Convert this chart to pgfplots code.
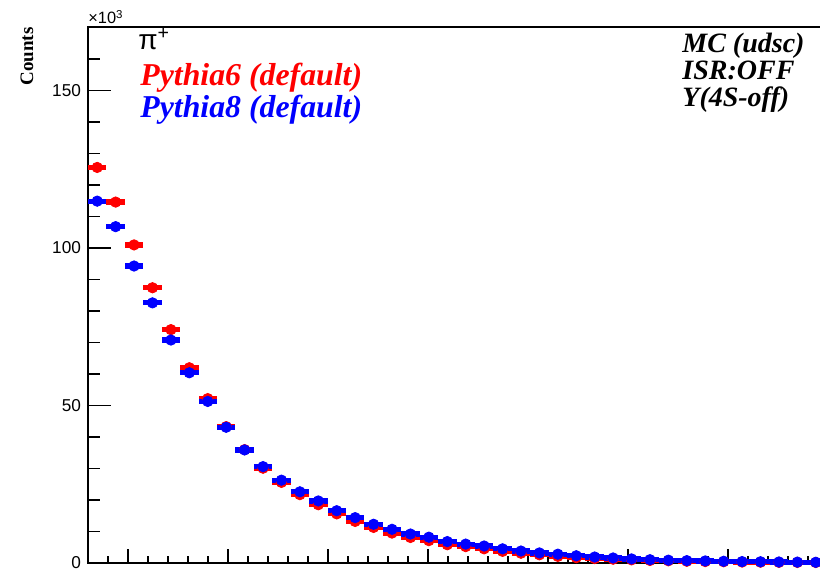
\documentclass[border=0pt]{standalone}
\usepackage{fontspec}
\setmainfont{Liberation Serif}
\newfontfamily\helv{Liberation Sans}
\usepackage{pgfplots}
\pgfplotsset{compat=1.18}

\begin{document}
\begin{tikzpicture}
\begin{axis}[
    at={(44pt,5.5pt)}, anchor=south west,
    scale only axis,
    width=368.5pt, height=267.85pt,
    xmin=0, xmax=40,
    ymin=0, ymax=170.1,
    axis line style={line width=0.8pt},
    tick align=inside,
    xtick pos=bottom, ytick pos=left,
    xtick={2.170,7.596,13.022,18.448,23.874,29.300,34.725},
    minor xtick={1.0852,2.1704,...,40},
    xticklabels={},
    ytick={0,50,100,150},
    minor ytick={0,10,...,170},
    major tick length=11.5pt, minor tick length=6pt,
    every major x tick/.append style={/pgfplots/major tick length=7pt},
    every minor x tick/.append style={/pgfplots/minor tick length=3.5pt},
    tick style={line width=0.8pt, black},
    scaled ticks=false,
    /pgf/number format/assume math mode=true,
    yticklabel style={font=\helv\fontsize{8.6}{10}\selectfont, xshift=0pt},
    clip=false,
]
% Pythia6 (default)
\addplot[only marks, mark=*, red, mark size=2.6pt,
    error bars/.cd, x dir=both, x fixed=0.5, error mark=none,
    error bar style={line width=2.6pt, red}]
coordinates {
(0.5,125.6) (1.5,114.6) (2.5,101.0) (3.5,87.4) (4.5,74.1)
(5.5,62.0) (6.5,52.2) (7.5,43.3) (8.5,36.0) (9.5,30.1)
(10.5,25.6) (11.5,21.7) (12.5,18.5) (13.5,15.6) (14.5,13.2)
(15.5,11.3) (16.5,9.5) (17.5,8.1) (18.5,7.1) (19.5,5.8)
(20.5,5.2) (21.5,4.5) (22.5,3.7) (23.5,3.1) (24.5,2.6)
(25.5,2.1) (26.5,1.7) (27.5,1.4) (28.5,1.2) (29.5,1.0)
(30.5,0.8) (31.5,0.7) (32.5,0.55) (33.5,0.45) (34.5,0.4)
(35.5,0.3) (36.5,0.25) (37.5,0.2) (38.5,0.18) (39.5,0.15)
};
% Pythia8 (default)
\addplot[only marks, mark=*, blue, mark size=2.6pt,
    error bars/.cd, x dir=both, x fixed=0.5, error mark=none,
    error bar style={line width=2.6pt, blue}]
coordinates {
(0.5,114.9) (1.5,106.8) (2.5,94.3) (3.5,82.6) (4.5,70.8)
(5.5,60.4) (6.5,51.3) (7.5,43.1) (8.5,35.9) (9.5,30.6)
(10.5,26.3) (11.5,22.6) (12.5,19.7) (13.5,16.6) (14.5,14.4)
(15.5,12.3) (16.5,10.7) (17.5,9.2) (18.5,8.2) (19.5,6.8)
(20.5,6.0) (21.5,5.4) (22.5,4.5) (23.5,3.8) (24.5,3.2)
(25.5,2.8) (26.5,2.3) (27.5,1.9) (28.5,1.6) (29.5,1.3)
(30.5,1.05) (31.5,0.9) (32.5,0.75) (33.5,0.65) (34.5,0.55)
(35.5,0.45) (36.5,0.4) (37.5,0.33) (38.5,0.28) (39.5,0.23)
};
\end{axis}

% labels
\node[anchor=base west, inner sep=0pt] at (44pt,275pt)
    {\helv\fontsize{8.2}{9}\selectfont ×10\textsuperscript{3}};
\node[anchor=base, rotate=90, inner sep=0pt] at (16.5pt,258.75pt)
    {\fontsize{9.5}{11}\selectfont\bfseries Counts};
\node[anchor=base west, inner sep=0pt] at (69pt,262pt)
    {\helv\fontsize{14}{17}\selectfont π\textsuperscript{+}};
\node[anchor=base west, inner sep=0pt, red] at (70pt,244pt)
    {\fontsize{15.9}{18}\selectfont\bfseries\itshape Pythia6 (default)};
\node[anchor=base west, inner sep=0pt, blue] at (70pt,228pt)
    {\fontsize{15.9}{18}\selectfont\bfseries\itshape Pythia8 (default)};
\node[anchor=base west, inner sep=0pt] at (341pt,260.5pt)
    {\fontsize{14}{16}\selectfont\bfseries\itshape MC (udsc)};
\node[anchor=base west, inner sep=0pt] at (341pt,247pt)
    {\fontsize{14}{16}\selectfont\bfseries\itshape ISR:OFF};
\node[anchor=base west, inner sep=0pt] at (341pt,233.5pt)
    {\fontsize{14}{16}\selectfont\bfseries\itshape Y(4S-off)};

\pgfresetboundingbox
\path[use as bounding box] (0,0) rectangle (410pt,287pt);
\end{tikzpicture}
\end{document}
